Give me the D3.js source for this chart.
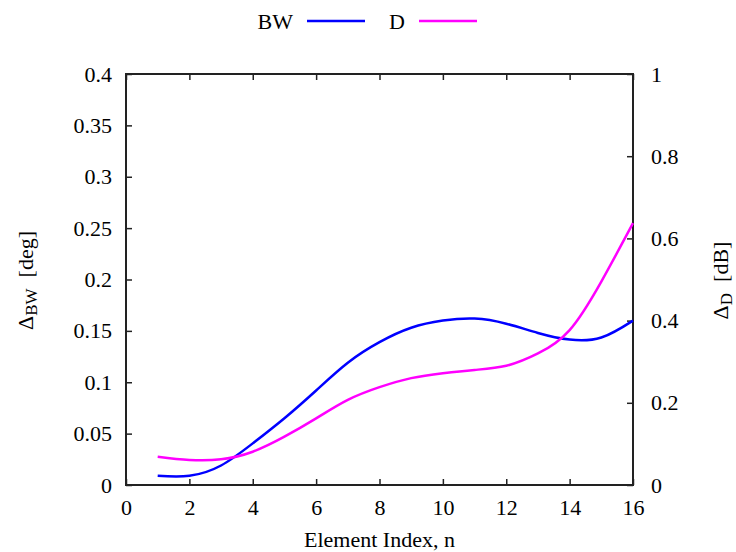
<!DOCTYPE html>
<html>
<head>
<meta charset="utf-8">
<script src="https://cdn.jsdelivr.net/npm/d3@7"></script>
<style>
  body { margin: 0; background: #fff; }
</style>
</head>
<body>
<svg id="chart"></svg>
<script>
// Chart data
const elementIndex = [1, 2, 3, 4, 5, 6, 7, 8, 9, 10, 11, 12, 13, 14, 15, 16];
const bwValues = [0.009, 0.009, 0.019, 0.0405, 0.065, 0.092, 0.119, 0.139, 0.153, 0.160, 0.162, 0.157, 0.148, 0.1415, 0.1435, 0.160];
const dValues = [0.069, 0.061, 0.0625, 0.081, 0.1175, 0.162, 0.207, 0.238, 0.26, 0.272, 0.28, 0.29, 0.32, 0.377, 0.495, 0.637];
const xTicks = [0, 2, 4, 6, 8, 10, 12, 14, 16];
const yLeftTicks = [0, 0.05, 0.1, 0.15, 0.2, 0.25, 0.3, 0.35, 0.4];
const yRightTicks = [0, 0.2, 0.4, 0.6, 0.8, 1];

// Dimensions
const WIDTH = 736;
const HEIGHT = 552;
const PLOT_LEFT = 126;
const PLOT_RIGHT = 633;
const PLOT_TOP = 74;
const PLOT_BOTTOM = 485;
const TICK_SIZE = 6;
const FONT = 'Liberation Serif';
const FONT_SIZE = 22;

const svg = d3.select('#chart')
  .attr('width', WIDTH)
  .attr('height', HEIGHT);

const x = d3.scaleLinear().domain([0, 16]).range([PLOT_LEFT, PLOT_RIGHT]);
const yLeft = d3.scaleLinear().domain([0, 0.4]).range([PLOT_BOTTOM, PLOT_TOP]);
const yRight = d3.scaleLinear().domain([0, 1]).range([PLOT_BOTTOM, PLOT_TOP]);

const fmt = v => String(+v.toFixed(2));

const styleAxis = g => {
  g.attr('font-family', null).attr('font-size', null);
  g.select('.domain').remove();
  g.selectAll('line').attr('stroke', '#222').attr('stroke-width', 1.5);
  g.selectAll('text').attr('fill', '#000');
};

// Bottom axis (ticks inward)
svg.append('g')
  .attr('transform', `translate(0, ${PLOT_BOTTOM})`)
  .call(d3.axisBottom(x).tickValues(xTicks).tickSizeInner(-TICK_SIZE).tickSizeOuter(0).tickPadding(14).tickFormat(fmt))
  .call(styleAxis);

// Top mirror ticks
svg.append('g')
  .attr('transform', `translate(0, ${PLOT_TOP})`)
  .call(d3.axisTop(x).tickValues(xTicks).tickSizeInner(-TICK_SIZE).tickSizeOuter(0).tickFormat(''))
  .call(styleAxis);

// Left axis
svg.append('g')
  .attr('transform', `translate(${PLOT_LEFT}, 0)`)
  .call(d3.axisLeft(yLeft).tickValues(yLeftTicks).tickSizeInner(-TICK_SIZE).tickSizeOuter(0).tickPadding(14).tickFormat(fmt))
  .call(styleAxis);

// Right axis
svg.append('g')
  .attr('transform', `translate(${PLOT_RIGHT}, 0)`)
  .call(d3.axisRight(yRight).tickValues(yRightTicks).tickSizeInner(-TICK_SIZE).tickSizeOuter(0).tickPadding(18).tickFormat(fmt))
  .call(styleAxis);

// Plot border
svg.append('rect')
  .attr('x', PLOT_LEFT)
  .attr('y', PLOT_TOP)
  .attr('width', PLOT_RIGHT - PLOT_LEFT)
  .attr('height', PLOT_BOTTOM - PLOT_TOP)
  .attr('fill', 'none')
  .attr('stroke', '#222')
  .attr('stroke-width', 2);

// Data lines
const bwLine = d3.line()
  .x((_, i) => x(elementIndex[i]))
  .y(v => yLeft(v))
  .curve(d3.curveNatural);

const dLine = d3.line()
  .x((_, i) => x(elementIndex[i]))
  .y(v => yRight(v))
  .curve(d3.curveNatural);

svg.append('path')
  .datum(bwValues)
  .attr('d', bwLine)
  .attr('fill', 'none')
  .attr('stroke', '#0000ff')
  .attr('stroke-width', 2.5);

svg.append('path')
  .datum(dValues)
  .attr('d', dLine)
  .attr('fill', 'none')
  .attr('stroke', '#ff00ff')
  .attr('stroke-width', 2.5);

// Legend
const legend = svg.append('g');
const legendItems = [
  { label: 'BW', color: '#0000ff', textEnd: 293, lineStart: 307 },
  { label: 'D', color: '#ff00ff', textEnd: 405, lineStart: 419 },
];
legendItems.forEach(item => {
  legend.append('text')
    .attr('x', item.textEnd)
    .attr('y', 29)
    .attr('text-anchor', 'end')
    .text(item.label);
  legend.append('line')
    .attr('x1', item.lineStart)
    .attr('x2', item.lineStart + 58)
    .attr('y1', 21)
    .attr('y2', 21)
    .attr('stroke', item.color)
    .attr('stroke-width', 2.5);
});

// Axis titles
svg.append('text')
  .attr('x', (PLOT_LEFT + PLOT_RIGHT) / 2)
  .attr('y', 547)
  .attr('text-anchor', 'middle')
  .text('Element Index, n');

const yTitle = (xPos, sub, unit) => {
  const t = svg.append('text')
    .attr('transform', `translate(${xPos}, ${(PLOT_TOP + PLOT_BOTTOM) / 2 + 1}) rotate(-90)`)
    .attr('text-anchor', 'middle');
  t.append('tspan').text('Δ');
  t.append('tspan').attr('class', 'sub').attr('dy', 4).text(sub);
  t.append('tspan').attr('dy', -4).attr('xml:space', 'preserve').text(`  ${unit}`);
};
yTitle(33, 'BW', '[deg]');
yTitle(728, 'D', '[dB]');

// Put the font straight on every text
svg.selectAll('text')
  .attr('font-family', FONT)
  .attr('font-size', FONT_SIZE);
svg.selectAll('tspan')
  .attr('font-family', FONT);
svg.selectAll('tspan.sub')
  .attr('font-size', 17);
</script>
</body>
</html>
